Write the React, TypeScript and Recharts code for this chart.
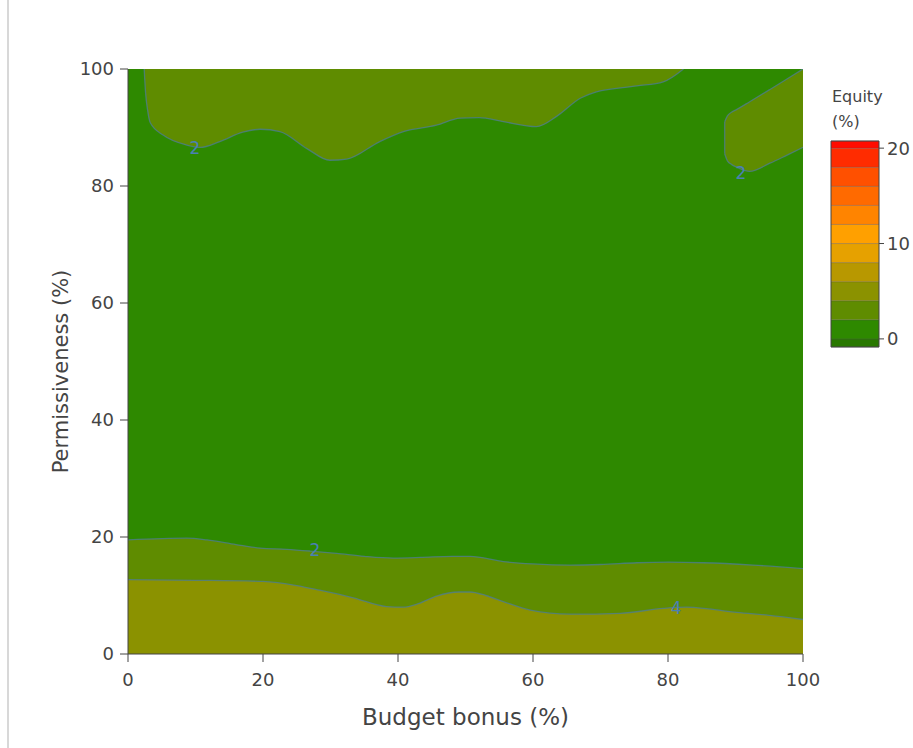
import React from 'react';
import { ComposedChart, Area, Line, Scatter, XAxis, YAxis, Label, ReferenceArea } from 'recharts';

const FONT = '"DejaVu Sans", Verdana, sans-serif';
const TEXT = '#444';
const LINE = 'rgba(78,124,150,0.75)';

const xTicks = [0, 20, 40, 60, 80, 100];
const yTicks = [0, 20, 40, 60, 80, 100];

// level colours (Equity %)
const colorLevels = [-0.85, 0, 2, 4, 6, 8, 10, 12, 14, 16, 18, 20, 20.75];
const colorBands = ['#287800', '#2e8900', '#5f8c00', '#8b9200', '#b89800', '#e6a100', '#ffa000', '#ff8400', '#ff6a00', '#ff5000', '#ff2c00', '#ff0c00'];
const colorTicks = [0, 10, 20];

// whole field (0-2 level)
const fullField = [{ x: 0, y: 100 }, { x: 100, y: 100 }];

// level 2 contour near the bottom
const contour2Bottom = [
  { x: 0, y: 19.5 }, { x: 8.7, y: 19.8 }, { x: 11.7, y: 19.5 }, { x: 16, y: 18.7 }, { x: 19.6, y: 18.1 },
  { x: 23.5, y: 17.9 }, { x: 27, y: 17.6 }, { x: 30.9, y: 17.2 }, { x: 35, y: 16.7 }, { x: 39.3, y: 16.4 },
  { x: 43.3, y: 16.5 }, { x: 48, y: 16.7 }, { x: 50.7, y: 16.7 }, { x: 55.6, y: 15.8 }, { x: 60, y: 15.4 },
  { x: 65.5, y: 15.2 }, { x: 70, y: 15.3 }, { x: 75.4, y: 15.6 }, { x: 80, y: 15.7 }, { x: 85.2, y: 15.6 },
  { x: 92.6, y: 15.2 }, { x: 100, y: 14.6 },
];

// level 4 contour near the bottom
const contour4Bottom = [
  { x: 0, y: 12.7 }, { x: 10, y: 12.6 }, { x: 20, y: 12.4 }, { x: 25, y: 11.7 }, { x: 28.4, y: 10.9 },
  { x: 33.4, y: 9.6 }, { x: 38.3, y: 8.1 }, { x: 40.7, y: 8.0 }, { x: 43, y: 8.6 }, { x: 45.7, y: 9.9 },
  { x: 49, y: 10.6 }, { x: 50.7, y: 10.6 }, { x: 53, y: 10.0 }, { x: 55.6, y: 8.95 }, { x: 59.6, y: 7.5 },
  { x: 65.5, y: 6.8 }, { x: 72.9, y: 6.95 }, { x: 79.3, y: 7.8 }, { x: 82.8, y: 8.0 }, { x: 86, y: 7.7 },
  { x: 90.2, y: 7.1 }, { x: 95, y: 6.6 }, { x: 100, y: 5.9 },
];

// level 2 contour, top left region
const contour2TopLeft = [
  { x: 2.4, y: 100 }, { x: 2.6, y: 96 }, { x: 2.9, y: 93 }, { x: 3.3, y: 90.8 }, { x: 5.2, y: 88.7 },
  { x: 8.7, y: 87.0 }, { x: 10.7, y: 86.6 }, { x: 13.6, y: 87.6 }, { x: 17, y: 89.2 }, { x: 19.6, y: 89.7 },
  { x: 22.5, y: 89.3 }, { x: 26.5, y: 86.4 }, { x: 29.9, y: 84.4 }, { x: 32.4, y: 84.6 }, { x: 37.3, y: 87.6 },
  { x: 40.8, y: 89.3 }, { x: 45.7, y: 90.4 }, { x: 49.2, y: 91.6 }, { x: 52, y: 91.7 }, { x: 55.6, y: 91.0 },
  { x: 60.5, y: 90.15 }, { x: 63.5, y: 91.9 }, { x: 67, y: 95.0 }, { x: 69.4, y: 96.1 }, { x: 75.4, y: 97.1 },
  { x: 79.3, y: 97.8 }, { x: 82.3, y: 100 },
];

// level 2 contour, top right region
const topRightX = [88.4, 88.8, 89.4, 90.2, 92.1, 95.1, 97.5, 100];
const topRightLow = [85.5, 84.3, 83.7, 83.2, 82.5, 83.9, 85.2, 86.6];
const topRightHigh = [91.0, 92.0, 92.6, 93.1, 94.4, 96.5, 98.2, 100];
const topRightEdge = [{ x: 88.4, y: 85.5 }, { x: 88.4, y: 91.0 }];

const contourLabels = [
  { x: 9.9, y: 86.5, label: '2' },
  { x: 90.8, y: 82.2, label: '2' },
  { x: 27.7, y: 17.8, label: '2' },
  { x: 81.2, y: 7.9, label: '4' },
];

const topRightData = topRightX.map((x, i) => ({ x, r: [topRightLow[i], topRightHigh[i]] }));
const bandData = colorBands.map((color, i) => ({
  color,
  data: [
    { x: 0, r: [colorLevels[i], colorLevels[i + 1]] },
    { x: 1, r: [colorLevels[i], colorLevels[i + 1]] },
  ],
}));

const XTitle = (props: any) => {
  const vb = props.viewBox || { x: 128, y: 654, width: 675, height: 60 };
  return (
    <text x={vb.x + vb.width / 2} y={vb.y + 71} textAnchor="middle" fill={TEXT} fontSize={23} fontFamily={FONT}>
      Budget bonus (%)
    </text>
  );
};

const YTitle = (props: any) => {
  const vb = props.viewBox || { x: 68, y: 69, width: 60, height: 585 };
  const x = vb.x;
  const y = vb.y + vb.height / 2 + 10;
  return (
    <text x={x} y={y} transform={`rotate(-90, ${x}, ${y})`} textAnchor="middle" fill={TEXT} fontSize={21} fontFamily={FONT}>
      Permissiveness (%)
    </text>
  );
};

const ContourLabel = (props: any) => (
  <text x={props.cx} y={props.cy} textAnchor="middle" dominantBaseline="central" fill="#4a80b4" fontSize={17} fontFamily={FONT}>
    {props.payload.label}
  </text>
);

const tickStyle = { fill: TEXT, fontSize: 18, fontFamily: FONT };

export default function App() {
  return (
    <div style={{ position: 'absolute', left: 0, top: 0, width: 913, height: 748, background: '#fff' }}>
      <div style={{ position: 'absolute', left: 7, top: 0, width: 2, height: 748, background: '#d8d8d8' }} />
      <div style={{ position: 'absolute', left: 0, top: 0 }}>
        <ComposedChart width={913} height={748} margin={{ top: 69, right: 110, bottom: 34, left: 68 }}>
          <Area data={fullField} dataKey="y" type="linear" baseValue={0} fill="#2e8900" fillOpacity={1} stroke="none" isAnimationActive={false} />
          <Area data={contour2Bottom} dataKey="y" type="monotone" baseValue={0} fill="#5f8c00" fillOpacity={1} stroke={LINE} strokeWidth={1.3} isAnimationActive={false} />
          <Area data={contour4Bottom} dataKey="y" type="monotone" baseValue={0} fill="#8b9200" fillOpacity={1} stroke={LINE} strokeWidth={1.3} isAnimationActive={false} />
          <Area data={contour2TopLeft} dataKey="y" type="monotone" baseValue={100} fill="#5f8c00" fillOpacity={1} stroke={LINE} strokeWidth={1.3} isAnimationActive={false} />
          <Area data={topRightData} dataKey="r" type="monotone" fill="#5f8c00" fillOpacity={1} stroke={LINE} strokeWidth={1.3} isAnimationActive={false} />
          <Line data={topRightEdge} dataKey="y" type="linear" stroke={LINE} strokeWidth={1.3} dot={false} isAnimationActive={false} />
          <Scatter data={contourLabels} dataKey="y" shape={ContourLabel} isAnimationActive={false} />
          <XAxis type="number" dataKey="x" domain={[0, 100]} ticks={xTicks} interval={0} allowDataOverflow height={60}
            tickSize={8} tickMargin={11} stroke="#444" tick={tickStyle}>
            <Label content={XTitle} />
          </XAxis>
          <YAxis type="number" dataKey="y" domain={[0, 100]} ticks={yTicks} interval={0} allowDataOverflow width={60}
            tickSize={8} tickMargin={6} stroke="#444" tick={tickStyle}>
            <Label content={YTitle} />
          </YAxis>
        </ComposedChart>
      </div>
      <div style={{ position: 'absolute', left: 832, top: 84, fontFamily: FONT, fontSize: 16, lineHeight: '25px', color: TEXT }}>
        <div>Equity</div>
        <div>(%)</div>
      </div>
      <div style={{ position: 'absolute', left: 820, top: 130 }}>
        <ComposedChart width={93} height={230} margin={{ top: 11, right: 0, bottom: 13, left: 11 }}>
          {bandData.map((b, i) => (
            <Area key={i} data={b.data} dataKey="r" type="linear" fill={b.color} fillOpacity={1}
              stroke="rgba(80,80,80,0.3)" strokeWidth={1} isAnimationActive={false} />
          ))}
          <ReferenceArea x1={0} x2={1} y1={-0.85} y2={20.75} fill="none" stroke="#444" strokeWidth={1} ifOverflow="visible" />
          <XAxis type="number" dataKey="x" domain={[0, 1]} hide />
          <YAxis orientation="right" type="number" domain={[-0.85, 20.75]} ticks={colorTicks} interval={0} width={34}
            tickSize={5} tickMargin={3} axisLine={false} stroke="#444" tick={tickStyle} />
        </ComposedChart>
      </div>
    </div>
  );
}
